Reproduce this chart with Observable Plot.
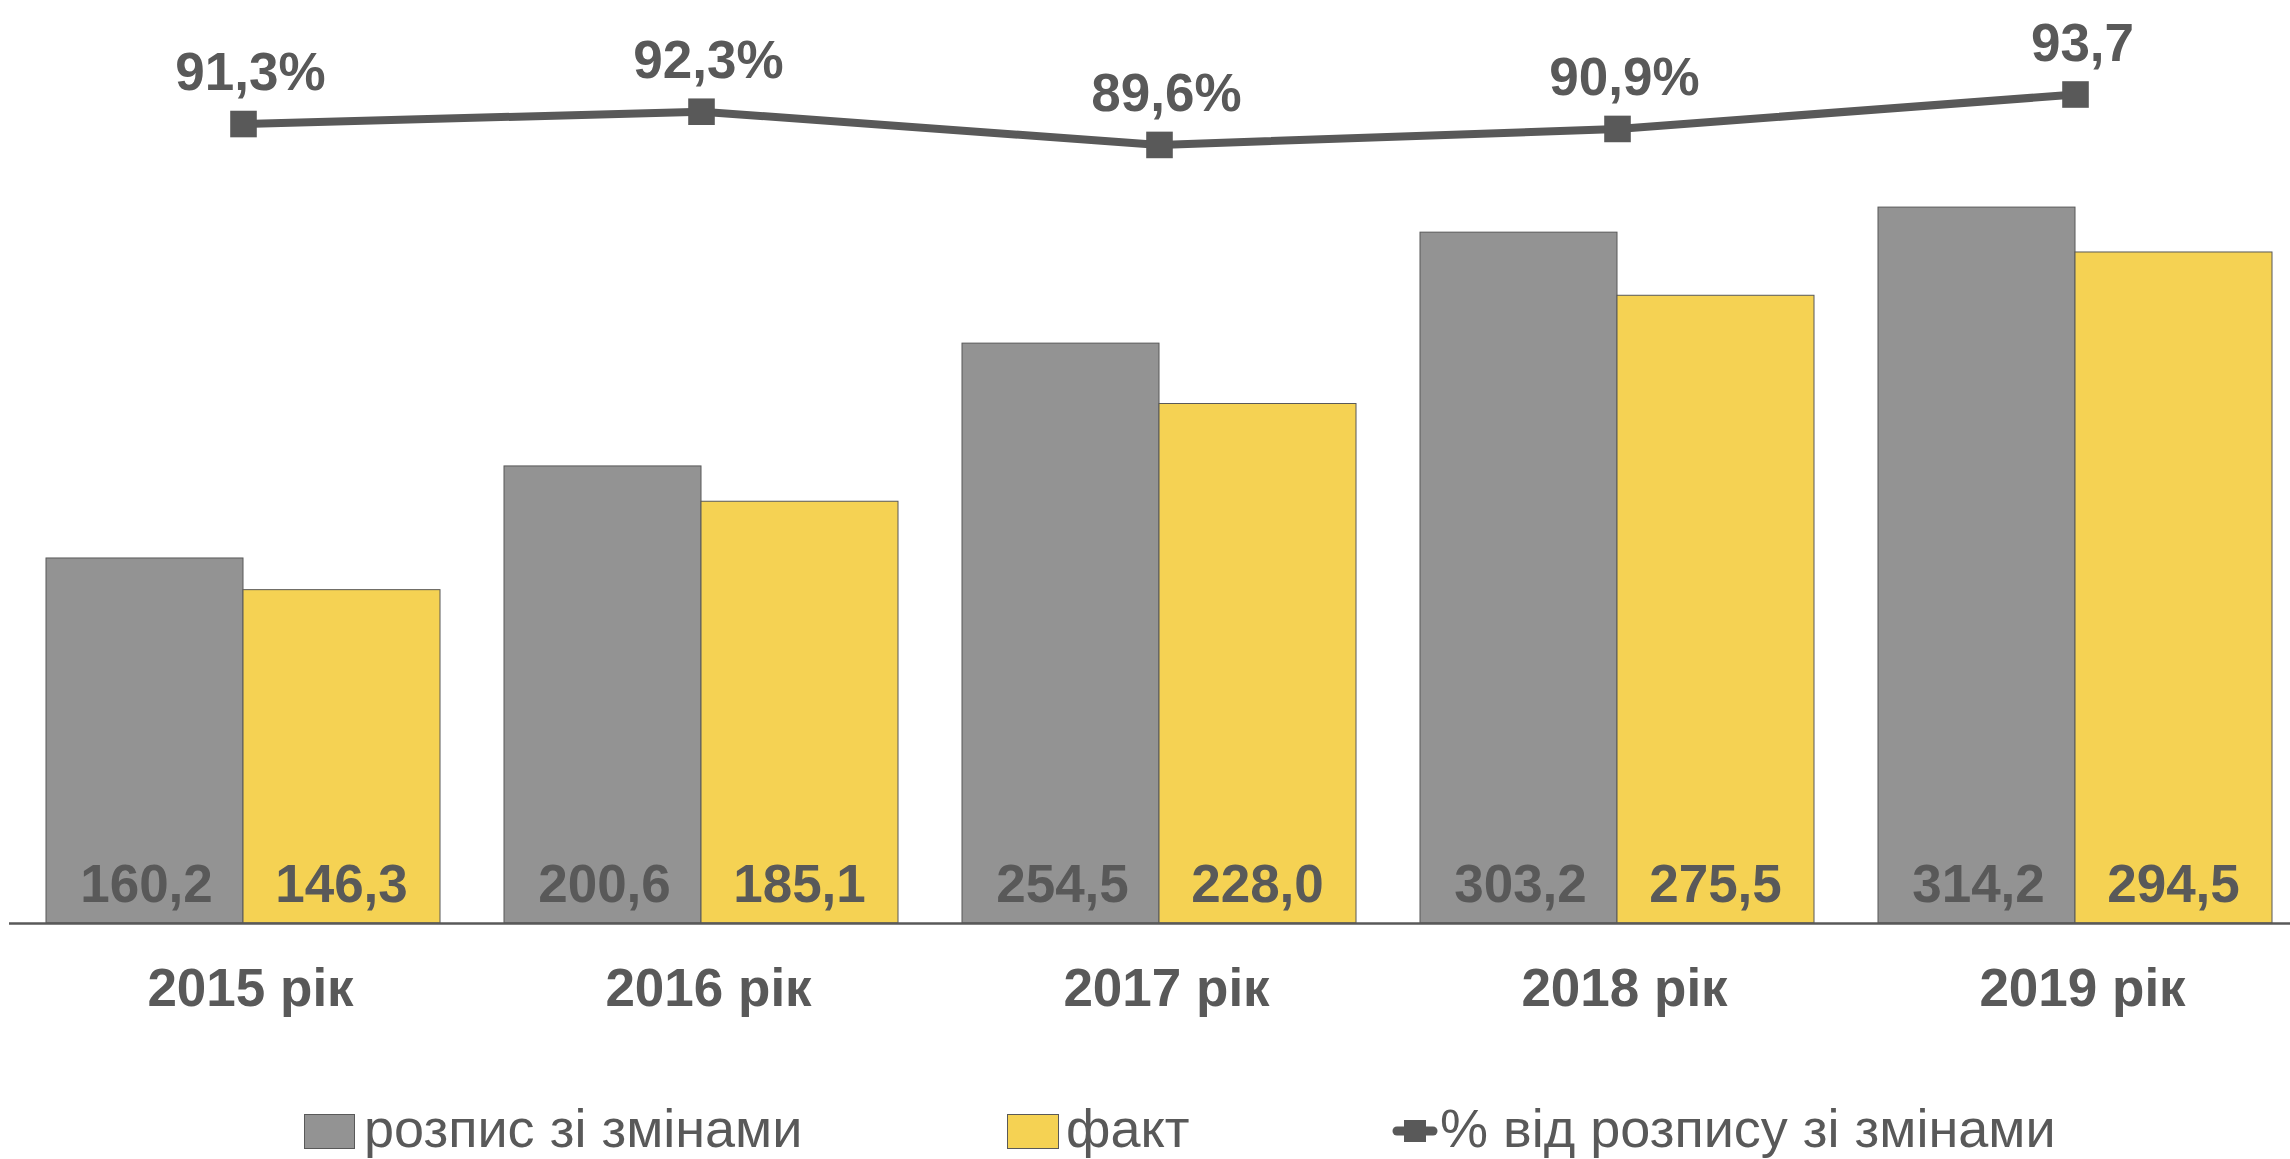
<!DOCTYPE html>
<html>
<head>
<meta charset="utf-8">
<script src="https://cdn.jsdelivr.net/npm/d3@7"></script>
<script src="https://cdn.jsdelivr.net/npm/@observablehq/plot@0.6"></script>
<style>
  html, body { margin: 0; padding: 0; background: #fff; }
  body { width: 2290px; height: 1159px; overflow: hidden; font-family: "Liberation Sans", Arial, sans-serif; }
  #legend { position: relative; width: 2290px; height: 89px; color: #595959; font-size: 54px; }
  #legend .sw { position: absolute; top: 44px; height: 35px; box-sizing: border-box; border: 1px solid #595959; }
  #legend .lbl { position: absolute; top: 38px; line-height: 40px; white-space: nowrap; }
  #legend svg { position: absolute; }
</style>
</head>
<body>
<div id="chart"></div>
<div id="legend"></div>
<script>
// ---- data ----
const years = ["2015 рік", "2016 рік", "2017 рік", "2018 рік", "2019 рік"];
const planValues = [160.2, 200.6, 254.5, 303.2, 314.2];   // розпис зі змінами
const factValues = [146.3, 185.1, 228.0, 275.5, 294.5];   // факт
const pctValues  = [91.3, 92.3, 89.6, 90.9, 93.7];        // % від розпису зі змінами
const pctLabels  = ["91,3%", "92,3%", "89,6%", "90,9%", "93,7"];
const seriesNames = ["розпис зі змінами", "факт", "% від розпису зі змінами"];

// ---- styles ----
const GREY = "#939393", YELLOW = "#F5D253", INK = "#595959";
const FONT = "Liberation Sans, Arial, sans-serif";

const rows = years.map((year, i) => ({year, plan: planValues[i], fact: factValues[i], pct: pctValues[i], label: pctLabels[i]}));
const fmt = d3.formatLocale({decimal: ",", thousands: " ", grouping: [3], currency: ["", ""]}).format(".1f");

// secondary (percent) axis mapped onto the primary value axis
const pctToY = d3.scaleLinear().domain([26.3, 100.4]).range([0, 400]);

const H = 1070;
const chart = Plot.plot({
  width: 2290,
  height: H,
  marginLeft: 9,
  marginRight: 0,
  marginTop: 0,
  marginBottom: H - 923,
  style: {fontFamily: FONT, background: "#fff", overflow: "visible"},
  x: {type: "band", domain: years, range: [13, 2305], paddingInner: 0.14, paddingOuter: 0.072, label: null},
  y: {domain: [0, 400], range: [923, 11.6], axis: null},
  marks: [
    Plot.barY(rows, {x: "year", y: "plan", fill: GREY, stroke: INK, strokeWidth: 1, insetRight: 197}),
    Plot.barY(rows, {x: "year", y: "fact", fill: YELLOW, stroke: INK, strokeWidth: 1, insetLeft: 197}),
    Plot.ruleY([0], {stroke: INK, strokeWidth: 2.5}),
    Plot.text(rows, {x: "year", y: () => 0, text: d => fmt(d.plan), dx: -97, dy: -22, lineAnchor: "bottom",
      fontSize: 53, fontWeight: "bold", fill: INK}),
    Plot.text(rows, {x: "year", y: () => 0, text: d => fmt(d.fact), dx: 98, dy: -22, lineAnchor: "bottom",
      fontSize: 53, fontWeight: "bold", fill: INK}),
    Plot.line(rows, {x: "year", y: d => pctToY(d.pct), stroke: INK, strokeWidth: 8}),
    Plot.dot(rows, {x: "year", y: d => pctToY(d.pct), symbol: "square", r: 15, fill: INK, stroke: null}),
    Plot.text(rows, {x: "year", y: d => pctToY(d.pct), text: "label", dx: 7, dy: -34, lineAnchor: "bottom",
      fontSize: 53, fontWeight: "bold", fill: INK}),
    Plot.axisX({tickSize: 0, tickPadding: 45, fontSize: 53, fontWeight: "bold", color: INK, dx: 7, label: null})
  ]
});
document.getElementById("chart").appendChild(chart);

// ---- legend (HTML below the SVG) ----
const legend = document.getElementById("legend");
const items = [
  {type: "bar", color: GREY, swLeft: 304, swWidth: 51, textLeft: 364},
  {type: "bar", color: YELLOW, swLeft: 1007, swWidth: 52, textLeft: 1066},
  {type: "line", color: INK, swLeft: 1392, swWidth: 46, textLeft: 1440}
];
items.forEach((it, i) => {
  if (it.type === "bar") {
    const sw = document.createElement("div");
    sw.className = "sw";
    sw.style.left = it.swLeft + "px";
    sw.style.width = it.swWidth + "px";
    sw.style.background = it.color;
    legend.appendChild(sw);
  } else {
    const ns = "http://www.w3.org/2000/svg";
    const svg = document.createElementNS(ns, "svg");
    svg.setAttribute("width", it.swWidth);
    svg.setAttribute("height", 30);
    svg.style.left = it.swLeft + "px";
    svg.style.top = "46px";
    const ln = document.createElementNS(ns, "line");
    ln.setAttribute("x1", 5); ln.setAttribute("x2", it.swWidth - 5);
    ln.setAttribute("y1", 15); ln.setAttribute("y2", 15);
    ln.setAttribute("stroke", it.color); ln.setAttribute("stroke-width", 9); ln.setAttribute("stroke-linecap", "round");
    svg.appendChild(ln);
    const sq = document.createElementNS(ns, "rect");
    sq.setAttribute("x", it.swWidth / 2 - 11); sq.setAttribute("y", 4);
    sq.setAttribute("width", 22); sq.setAttribute("height", 22);
    sq.setAttribute("fill", it.color);
    svg.appendChild(sq);
    legend.appendChild(svg);
  }
  const t = document.createElement("span");
  t.className = "lbl";
  t.style.left = it.textLeft + "px";
  t.textContent = seriesNames[i];
  legend.appendChild(t);
});
</script>
</body>
</html>
